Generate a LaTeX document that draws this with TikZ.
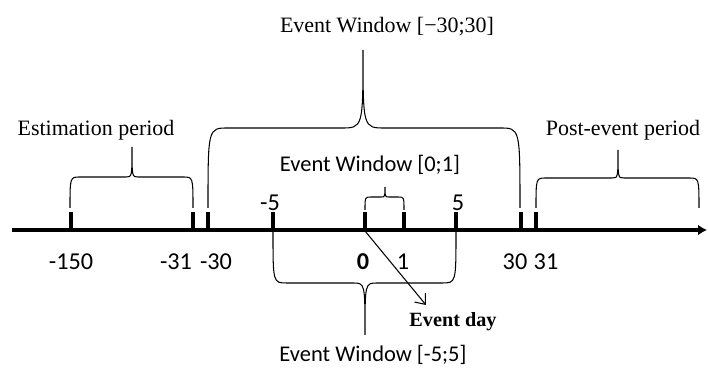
\documentclass[tikz,border=0pt]{standalone}
\usepackage{fontspec}
\setmainfont{Liberation Serif}
\newfontfamily\calibri{Carlito}
\usetikzlibrary{positioning,arrows.meta}
\def\axy{231}
\def\tickh{19}
\tikzstyle{axis}=[line width=1.8pt,-{Latex[length=5pt,width=6pt]}]
\tikzstyle{tick}=[line width=1.8pt]
\tikzstyle{brace}=[line width=0.6pt]
\tikzstyle{num}=[font=\calibri\fontsize{13.8}{15}\selectfont,inner sep=0pt,anchor=base]
\tikzstyle{cal}=[font=\calibri\fontsize{12.8}{14}\selectfont,inner sep=0pt,anchor=base]
\tikzstyle{tms}=[font=\fontsize{12.5}{14}\selectfont,inner sep=0pt,anchor=base]
\newcommand{\newTick}[4]{\coordinate (#1) at (#2,\axy); \draw[tick] (#1) -- ++(0,-\tickh); \node[num] (l#1) at (#3) {#4};}
% x1, x2, tip x, foot y, bar y, tip y, corner, tip curve
\newcommand{\newBrace}[8]{\draw[brace] (#1,#4) .. controls (#1,#5) .. (#1+#7,#5) -- (#3-#8,#5)
   .. controls (#3,#5) .. (#3,#6) .. controls (#3,#5) .. (#3+#8,#5) -- (#2-#7,#5) .. controls (#2,#5) .. (#2,#4);}

\begin{document}
\begin{tikzpicture}[x=0.02cm,y=-0.02cm,
      >={Straight Barb[length=5pt,width=8pt]},
      semithick
      ]
      \useasboundingbox (0,0) rectangle (708,368);
      % time axis
      \coordinate (axstart) at (12,230);
      \coordinate (axend) at (707,230);
      \draw[axis] (axstart) -- (axend);
      \newTick{m150}{71}{71,270}{-150}
      \newTick{m31}{193}{176,270}{-31}
      \newTick{m30}{208}{216,270}{-30}
      \newTick{m5}{273}{270,211}{-5}
      \newTick{z0}{365}{363,270}{\bfseries 0}
      \newTick{p1}{404}{403,270}{1}
      \newTick{p5}{456}{458,211}{5}
      \newTick{p30}{521}{515,270}{30}
      \newTick{p31}{536}{546,270}{31}
      % braces
      \newBrace{70}{193}{132}{208}{177}{147}{10}{6}
      \newBrace{208}{520}{363}{208}{128}{50}{20}{22}
      \newBrace{536}{699}{618}{208}{178}{150}{10}{6}
      \newBrace{365}{404}{385}{210}{197}{187}{6}{4}
      \newBrace{273}{456}{365}{232}{283}{335}{14}{12}
      % labels
      \node[tms] (estim) at (96,136) {Estimation period};
      \node[tms] (wide) at (387,33) {Event Window [−30;30]};
      \node[tms] (post) at (623,135.5) {Post-event period};
      \node[cal] (win01) at (370,172) {Event Window [0;1]};
      \node[cal] (win55) at (373,362) {Event Window [-5;5]};
      \node[tms,font=\bfseries\fontsize{11.5}{13}\selectfont] (eday) at (453,327) {Event day};
      \coordinate (dayhead) at (426,305);
      \draw[->,line width=0.6pt] (z0) -- (dayhead);
\end{tikzpicture}
\end{document}
